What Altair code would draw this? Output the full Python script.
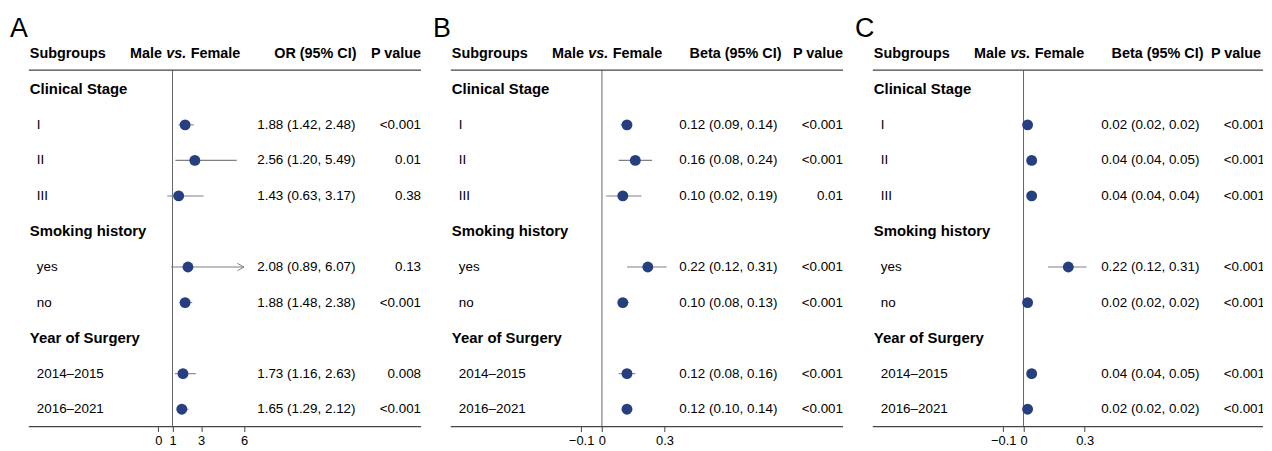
import altair as alt
import pandas as pd

# ---------------- data ----------------
row_labels = ["Clinical Stage", "I", "II", "III", "Smoking history", "yes", "no",
              "Year of Surgery", "2014\u20132015", "2016\u20132021"]
row_is_group = [True, False, False, False, True, False, False, True, False, False]

# estimates for the sub-rows (I, II, III, yes, no, 2014-2015, 2016-2021)
a_est = [1.88, 2.56, 1.43, 2.08, 1.88, 1.73, 1.65]
a_lo = [1.42, 1.20, 0.63, 0.89, 1.48, 1.16, 1.29]
a_hi = [2.48, 5.49, 3.17, 6.07, 2.38, 2.63, 2.12]
a_p = ["<0.001", "0.01", "0.38", "0.13", "<0.001", "0.008", "<0.001"]

b_est = [0.12, 0.16, 0.10, 0.22, 0.10, 0.12, 0.12]
b_lo = [0.09, 0.08, 0.02, 0.12, 0.08, 0.08, 0.10]
b_hi = [0.14, 0.24, 0.19, 0.31, 0.13, 0.16, 0.14]
b_p = ["<0.001", "<0.001", "0.01", "<0.001", "<0.001", "<0.001", "<0.001"]

c_est = [0.02, 0.04, 0.04, 0.22, 0.02, 0.04, 0.02]
c_lo = [0.02, 0.04, 0.04, 0.12, 0.02, 0.04, 0.02]
c_hi = [0.02, 0.05, 0.04, 0.31, 0.02, 0.05, 0.02]
c_p = ["<0.001"] * 7

a_ticks = [0, 1, 3, 6]
bc_ticks = [-0.1, 0, 0.3]

FONT = "Liberation Sans"
NAVY = "#263f80"
GRAY = "#808080"
LINE = "#444444"
W = 1264          # whole plot area (three panels side by side)
H = 420
ROW0, ROWSTEP = 80.3, 35.8
YDOM = [-ROW0 / ROWSTEP, (H - ROW0) / ROWSTEP]


def panel(letter, effect_name, est, lo, hi, pvals, ticks, ref, off, px0, pxunit,
          clip_max=None, p_head_right=416, eff_right=354, letter_x=3):
    sub_idx = [i for i, g in enumerate(row_is_group) if not g]
    df = pd.DataFrame({
        "r": sub_idx,
        "label": [row_labels[i] for i in sub_idx],
        "est": est, "lo": lo, "hi": hi, "p": pvals,
    })
    df["ci"] = [f"{e:.2f} ({l:.2f}, {h:.2f})" for e, l, h in zip(est, lo, hi)]
    if clip_max is not None:
        df["hi_c"] = df["hi"].clip(upper=clip_max)
        df["arrow"] = df["hi"] > clip_max
    else:
        df["hi_c"] = df["hi"]
        df["arrow"] = False
    grp = pd.DataFrame({
        "r": [i for i, g in enumerate(row_is_group) if g],
        "label": [row_labels[i] for i, g in enumerate(row_is_group) if g],
    })
    one = pd.DataFrame({"k": [0]})

    z = off + px0
    xs = alt.Scale(domain=[-z / pxunit, (W - z) / pxunit], nice=False, zero=False)
    ys = alt.Scale(domain=YDOM, reverse=True, nice=False, zero=False)
    xaxis = alt.Axis(values=ticks, format="~g", domain=False, grid=False, title=None,
                     orient="bottom",
                     tickSize=5, tickColor=LINE, tickWidth=1,
                     labelFont=FONT, labelFontSize=13, labelColor="black",
                     labelPadding=3, labelFlush=False, labelOverlap=False)

    base = alt.Chart(df)
    Y = alt.Y("r:Q", scale=ys, axis=None)

    ci = base.mark_rule(color=GRAY, strokeWidth=1.1).encode(
        x=alt.X("lo:Q", scale=xs, axis=xaxis), x2="hi_c:Q", y=Y)
    pts = base.mark_circle(size=120, color=NAVY, opacity=1).encode(
        x=alt.X("est:Q", scale=xs), y=Y)
    arrow = base.transform_filter("datum.arrow").mark_point(
        shape="M-1,-0.55L0,0L-1,0.55", filled=False, stroke=GRAY, strokeWidth=1,
        size=180, opacity=1).encode(x=alt.X("hi_c:Q", scale=xs), y=Y)

    refline = alt.Chart(one).mark_rule(color="#666666", strokeWidth=1).encode(
        x=alt.datum(ref, scale=xs), y=alt.value(61), y2=alt.value(H))
    x_end = min(off + 416, W)
    topline = alt.Chart(one).mark_rule(color=LINE, strokeWidth=1.2).encode(
        x=alt.value(off + 21), x2=alt.value(x_end), y=alt.value(61))
    botline = alt.Chart(one).mark_rule(color=LINE, strokeWidth=1.2).encode(
        x=alt.value(off + 21), x2=alt.value(x_end), y=alt.value(H))

    def txt(df_, field, x, align="left", bold=False, size=13.5):
        return alt.Chart(df_).mark_text(
            align=align, baseline="middle", font=FONT, fontSize=size,
            fontWeight="bold" if bold else "normal", color="black", clip=True
        ).encode(x=alt.value(off + x), y=alt.Y("r:Q", scale=ys, axis=None),
                 text=f"{field}:N")

    grp_txt = txt(grp, "label", 22, bold=True, size=15)
    sub_txt = txt(df, "label", 29)
    ci_txt = txt(df, "ci", 251)
    p_txt = txt(df, "p", 416, align="right")

    def head(text, x, align, style="normal"):
        return alt.Chart(one).mark_text(
            align=align, baseline="middle", font=FONT, fontSize=14.5,
            fontWeight="bold", fontStyle=style, color="black", clip=True
        ).encode(x=alt.value(off + x), y=alt.value(44.5), text=alt.value(text))

    h1 = head("Subgroups", 22, "left")
    h2 = head("Male", 123, "left")
    h2b = head("vs.", 159.5, "left", style="italic")
    h2c = head("Female", 184, "left")
    h3 = head(effect_name, eff_right, "right")
    h4 = head("P value", p_head_right, "right")

    let = alt.Chart(one).mark_text(
        align="left", baseline="middle", font=FONT, fontSize=27,
        fontWeight="normal", color="black"
    ).encode(x=alt.value(off + letter_x), y=alt.value(19.5), text=alt.value(letter))

    return alt.layer(
        refline, topline, botline, ci, arrow, pts,
        grp_txt, sub_txt, ci_txt, p_txt, h1, h2, h2b, h2c, h3, h4, let
    )


pa = panel("A", "OR (95% CI)", a_est, a_lo, a_hi, a_p, a_ticks, 1, 0,
           151.3, 14.4, clip_max=6, eff_right=351, letter_x=2)
pb = panel("B", "Beta (95% CI)", b_est, b_lo, b_hi, b_p, bc_ticks, 0, 425,
           173.2, 210.0, letter_x=3)
pc = panel("C", "Beta (95% CI)", c_est, c_lo, c_hi, c_p, bc_ticks, 0, 850,
           172.8, 205.0, p_head_right=412, letter_x=3)

chart = alt.layer(pa, pb, pc).resolve_scale(x="independent").resolve_axis(
    x="independent"
).properties(width=W, height=H, padding=0, background="white").configure_view(
    stroke=None)

chart.save("out.html", embed_options={"renderer": "svg", "actions": False})
